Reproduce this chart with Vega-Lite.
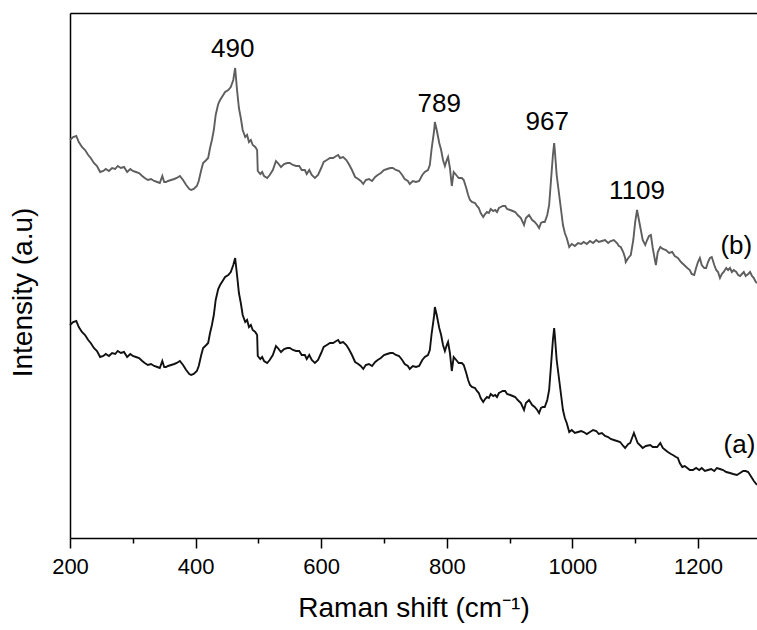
{
  "$schema": "https://vega.github.io/schema/vega-lite/v6.json",
  "width": 687,
  "height": 525,
  "autosize": "none",
  "padding": {"left": 70, "top": 13, "right": 0, "bottom": 92},
  "background": "white",
  "config": {"view": {"stroke": null}, "font": "Liberation Sans"},
  "datasets": {
    "b": [
      {"x":200,"y":398},{"x":205,"y":401},{"x":210,"y":402},{"x":214,"y":396},{"x":219,"y":391},{"x":224,"y":388},{"x":229,"y":383},{"x":233,"y":380},{"x":238,"y":375},{"x":243,"y":372},{"x":248,"y":366},{"x":253,"y":367},{"x":257,"y":369},{"x":262,"y":367},{"x":267,"y":370},{"x":272,"y":369},{"x":276,"y":372},{"x":281,"y":370},{"x":286,"y":371},{"x":291,"y":366},{"x":296,"y":369},{"x":300,"y":367},{"x":305,"y":366},{"x":310,"y":365},{"x":315,"y":362},{"x":319,"y":360},{"x":324,"y":358},{"x":329,"y":359},{"x":334,"y":357},{"x":339,"y":356},{"x":343,"y":355},{"x":347,"y":362},{"x":350,"y":356},{"x":353,"y":356},{"x":356,"y":357},{"x":361,"y":358},{"x":366,"y":359},{"x":370,"y":360},{"x":375,"y":362},{"x":380,"y":358},{"x":385,"y":353},{"x":390,"y":349},{"x":393,"y":348},{"x":397,"y":349},{"x":402,"y":352},{"x":405,"y":357},{"x":409,"y":368},{"x":412,"y":375},{"x":417,"y":378},{"x":420,"y":380},{"x":423,"y":390},{"x":426,"y":398},{"x":429,"y":408},{"x":432,"y":423},{"x":436,"y":434},{"x":439,"y":438},{"x":444,"y":443},{"x":447,"y":446},{"x":452,"y":448},{"x":456,"y":451},{"x":460,"y":458},{"x":463,"y":470},{"x":466,"y":448},{"x":469,"y":430},{"x":472,"y":420},{"x":475,"y":408},{"x":479,"y":401},{"x":482,"y":403},{"x":485,"y":396},{"x":488,"y":398},{"x":491,"y":393},{"x":495,"y":391},{"x":498,"y":388},{"x":499,"y":367},{"x":503,"y":364},{"x":506,"y":366},{"x":509,"y":362},{"x":514,"y":360},{"x":518,"y":363},{"x":523,"y":368},{"x":528,"y":377},{"x":531,"y":375},{"x":536,"y":371},{"x":541,"y":374},{"x":546,"y":375},{"x":550,"y":375},{"x":555,"y":373},{"x":560,"y":372},{"x":565,"y":372},{"x":569,"y":368},{"x":574,"y":368},{"x":577,"y":364},{"x":581,"y":368},{"x":585,"y":363},{"x":590,"y":360},{"x":595,"y":363},{"x":600,"y":370},{"x":604,"y":376},{"x":609,"y":378},{"x":614,"y":380},{"x":619,"y":380},{"x":624,"y":382},{"x":627,"y":383},{"x":630,"y":380},{"x":635,"y":381},{"x":640,"y":378},{"x":644,"y":374},{"x":649,"y":368},{"x":654,"y":361},{"x":659,"y":359},{"x":663,"y":357},{"x":667,"y":354},{"x":671,"y":358},{"x":676,"y":359},{"x":681,"y":357},{"x":686,"y":361},{"x":690,"y":363},{"x":695,"y":365},{"x":700,"y":368},{"x":705,"y":369},{"x":710,"y":370},{"x":714,"y":370},{"x":719,"y":368},{"x":724,"y":367},{"x":729,"y":363},{"x":733,"y":359},{"x":738,"y":357},{"x":741,"y":354},{"x":746,"y":357},{"x":751,"y":356},{"x":756,"y":357},{"x":761,"y":363},{"x":765,"y":366},{"x":770,"y":368},{"x":773,"y":373},{"x":776,"y":390},{"x":780,"y":408},{"x":781,"y":416},{"x":784,"y":408},{"x":788,"y":395},{"x":791,"y":388},{"x":794,"y":378},{"x":797,"y":372},{"x":800,"y":378},{"x":802,"y":381},{"x":805,"y":370},{"x":808,"y":352},{"x":811,"y":366},{"x":815,"y":363},{"x":819,"y":360},{"x":824,"y":360},{"x":827,"y":358},{"x":831,"y":350},{"x":834,"y":343},{"x":837,"y":338},{"x":840,"y":336},{"x":845,"y":335},{"x":848,"y":332},{"x":851,"y":330},{"x":854,"y":325},{"x":858,"y":321},{"x":861,"y":324},{"x":864,"y":326},{"x":867,"y":325},{"x":870,"y":329},{"x":874,"y":327},{"x":877,"y":328},{"x":880,"y":326},{"x":883,"y":330},{"x":886,"y":331},{"x":889,"y":332},{"x":893,"y":332},{"x":896,"y":329},{"x":901,"y":328},{"x":905,"y":327},{"x":909,"y":326},{"x":913,"y":323},{"x":918,"y":320},{"x":923,"y":313},{"x":926,"y":320},{"x":931,"y":323},{"x":936,"y":318},{"x":940,"y":316},{"x":944,"y":313},{"x":947,"y":310},{"x":950,"y":315},{"x":953,"y":316},{"x":956,"y":316},{"x":960,"y":323},{"x":963,"y":333},{"x":966,"y":358},{"x":969,"y":383},{"x":971,"y":395},{"x":972,"y":388},{"x":975,"y":363},{"x":979,"y":343},{"x":982,"y":328},{"x":985,"y":313},{"x":988,"y":305},{"x":991,"y":300},{"x":995,"y":291},{"x":999,"y":294},{"x":1004,"y":292},{"x":1009,"y":295},{"x":1014,"y":294},{"x":1018,"y":296},{"x":1023,"y":294},{"x":1028,"y":297},{"x":1033,"y":295},{"x":1038,"y":298},{"x":1042,"y":296},{"x":1047,"y":297},{"x":1052,"y":298},{"x":1057,"y":295},{"x":1061,"y":297},{"x":1066,"y":298},{"x":1071,"y":295},{"x":1074,"y":292},{"x":1077,"y":291},{"x":1081,"y":286},{"x":1084,"y":280},{"x":1085,"y":276},{"x":1089,"y":280},{"x":1093,"y":283},{"x":1097,"y":298},{"x":1100,"y":316},{"x":1103,"y":328},{"x":1106,"y":318},{"x":1109,"y":308},{"x":1112,"y":298},{"x":1116,"y":293},{"x":1119,"y":298},{"x":1122,"y":302},{"x":1125,"y":303},{"x":1128,"y":290},{"x":1132,"y":276},{"x":1133,"y":273},{"x":1136,"y":286},{"x":1140,"y":291},{"x":1144,"y":289},{"x":1149,"y":288},{"x":1154,"y":285},{"x":1159,"y":286},{"x":1163,"y":282},{"x":1168,"y":280},{"x":1173,"y":276},{"x":1178,"y":273},{"x":1183,"y":270},{"x":1187,"y":268},{"x":1190,"y":264},{"x":1194,"y":263},{"x":1197,"y":270},{"x":1200,"y":276},{"x":1203,"y":280},{"x":1206,"y":273},{"x":1210,"y":270},{"x":1213,"y":270},{"x":1216,"y":276},{"x":1219,"y":280},{"x":1222,"y":281},{"x":1226,"y":273},{"x":1229,"y":268},{"x":1232,"y":266},{"x":1235,"y":260},{"x":1238,"y":264},{"x":1241,"y":266},{"x":1245,"y":270},{"x":1248,"y":268},{"x":1251,"y":270},{"x":1254,"y":266},{"x":1257,"y":268},{"x":1261,"y":266},{"x":1264,"y":263},{"x":1267,"y":262},{"x":1270,"y":264},{"x":1273,"y":266},{"x":1276,"y":262},{"x":1280,"y":264},{"x":1283,"y":266},{"x":1286,"y":262},{"x":1289,"y":260},{"x":1292,"y":256},{"x":1294,"y":255}
    ],
    "a": [
      {"x":200,"y":213},{"x":205,"y":216},{"x":210,"y":217},{"x":214,"y":211},{"x":219,"y":206},{"x":224,"y":203},{"x":229,"y":198},{"x":233,"y":195},{"x":238,"y":190},{"x":243,"y":187},{"x":248,"y":181},{"x":253,"y":182},{"x":257,"y":184},{"x":262,"y":182},{"x":267,"y":185},{"x":272,"y":184},{"x":276,"y":187},{"x":281,"y":185},{"x":286,"y":186},{"x":291,"y":181},{"x":296,"y":184},{"x":300,"y":182},{"x":305,"y":181},{"x":310,"y":180},{"x":315,"y":177},{"x":319,"y":175},{"x":324,"y":173},{"x":329,"y":174},{"x":334,"y":172},{"x":339,"y":171},{"x":343,"y":170},{"x":347,"y":177},{"x":350,"y":171},{"x":353,"y":171},{"x":356,"y":172},{"x":361,"y":173},{"x":366,"y":174},{"x":370,"y":175},{"x":375,"y":177},{"x":380,"y":173},{"x":385,"y":168},{"x":390,"y":164},{"x":393,"y":163},{"x":397,"y":164},{"x":402,"y":167},{"x":405,"y":172},{"x":409,"y":183},{"x":412,"y":190},{"x":417,"y":193},{"x":420,"y":195},{"x":423,"y":205},{"x":426,"y":213},{"x":429,"y":223},{"x":432,"y":238},{"x":436,"y":249},{"x":439,"y":253},{"x":444,"y":258},{"x":447,"y":261},{"x":452,"y":263},{"x":456,"y":266},{"x":460,"y":273},{"x":463,"y":280},{"x":466,"y":263},{"x":469,"y":245},{"x":472,"y":235},{"x":475,"y":223},{"x":479,"y":216},{"x":482,"y":218},{"x":485,"y":211},{"x":488,"y":213},{"x":491,"y":208},{"x":495,"y":206},{"x":498,"y":203},{"x":499,"y":182},{"x":503,"y":179},{"x":506,"y":181},{"x":509,"y":177},{"x":514,"y":175},{"x":518,"y":178},{"x":523,"y":183},{"x":528,"y":192},{"x":531,"y":190},{"x":536,"y":186},{"x":541,"y":189},{"x":546,"y":190},{"x":550,"y":190},{"x":555,"y":188},{"x":560,"y":187},{"x":565,"y":187},{"x":569,"y":183},{"x":574,"y":183},{"x":577,"y":179},{"x":581,"y":183},{"x":585,"y":178},{"x":590,"y":175},{"x":595,"y":178},{"x":600,"y":185},{"x":604,"y":191},{"x":609,"y":193},{"x":614,"y":195},{"x":619,"y":195},{"x":624,"y":197},{"x":627,"y":198},{"x":630,"y":195},{"x":635,"y":196},{"x":640,"y":193},{"x":644,"y":189},{"x":649,"y":183},{"x":654,"y":176},{"x":659,"y":174},{"x":663,"y":172},{"x":667,"y":169},{"x":671,"y":173},{"x":676,"y":174},{"x":681,"y":172},{"x":686,"y":176},{"x":690,"y":178},{"x":695,"y":180},{"x":700,"y":183},{"x":705,"y":184},{"x":710,"y":185},{"x":714,"y":185},{"x":719,"y":183},{"x":724,"y":182},{"x":729,"y":178},{"x":733,"y":174},{"x":738,"y":172},{"x":741,"y":169},{"x":746,"y":172},{"x":751,"y":171},{"x":756,"y":172},{"x":761,"y":178},{"x":765,"y":181},{"x":770,"y":183},{"x":773,"y":188},{"x":776,"y":205},{"x":780,"y":223},{"x":781,"y":231},{"x":784,"y":223},{"x":788,"y":210},{"x":791,"y":203},{"x":794,"y":193},{"x":797,"y":187},{"x":800,"y":193},{"x":802,"y":196},{"x":805,"y":185},{"x":808,"y":167},{"x":811,"y":181},{"x":815,"y":178},{"x":819,"y":175},{"x":824,"y":175},{"x":827,"y":173},{"x":831,"y":165},{"x":834,"y":158},{"x":837,"y":153},{"x":840,"y":151},{"x":845,"y":150},{"x":848,"y":147},{"x":851,"y":145},{"x":854,"y":140},{"x":858,"y":136},{"x":861,"y":139},{"x":864,"y":141},{"x":867,"y":140},{"x":870,"y":144},{"x":874,"y":142},{"x":877,"y":143},{"x":880,"y":141},{"x":883,"y":145},{"x":886,"y":146},{"x":889,"y":147},{"x":893,"y":147},{"x":896,"y":144},{"x":901,"y":143},{"x":905,"y":142},{"x":909,"y":141},{"x":913,"y":138},{"x":918,"y":135},{"x":923,"y":128},{"x":926,"y":135},{"x":931,"y":138},{"x":936,"y":133},{"x":940,"y":131},{"x":944,"y":128},{"x":947,"y":125},{"x":950,"y":130},{"x":953,"y":131},{"x":956,"y":131},{"x":960,"y":138},{"x":963,"y":148},{"x":966,"y":173},{"x":969,"y":198},{"x":971,"y":210},{"x":972,"y":203},{"x":975,"y":178},{"x":979,"y":158},{"x":982,"y":143},{"x":985,"y":128},{"x":988,"y":120},{"x":991,"y":115},{"x":995,"y":106},{"x":999,"y":108},{"x":1004,"y":105},{"x":1009,"y":106},{"x":1014,"y":107},{"x":1018,"y":106},{"x":1023,"y":104},{"x":1028,"y":106},{"x":1033,"y":108},{"x":1038,"y":107},{"x":1042,"y":104},{"x":1047,"y":105},{"x":1052,"y":102},{"x":1057,"y":101},{"x":1061,"y":99},{"x":1066,"y":98},{"x":1071,"y":97},{"x":1076,"y":96},{"x":1081,"y":92},{"x":1084,"y":90},{"x":1089,"y":94},{"x":1092,"y":95},{"x":1095,"y":100},{"x":1098,"y":105},{"x":1101,"y":100},{"x":1104,"y":95},{"x":1109,"y":92},{"x":1112,"y":90},{"x":1117,"y":92},{"x":1124,"y":93},{"x":1128,"y":91},{"x":1135,"y":91},{"x":1140,"y":95},{"x":1144,"y":90},{"x":1148,"y":88},{"x":1152,"y":86},{"x":1157,"y":84},{"x":1160,"y":83},{"x":1165,"y":81},{"x":1168,"y":80},{"x":1171,"y":75},{"x":1175,"y":71},{"x":1179,"y":72},{"x":1183,"y":70},{"x":1187,"y":68},{"x":1192,"y":68},{"x":1197,"y":70},{"x":1202,"y":68},{"x":1206,"y":70},{"x":1211,"y":67},{"x":1216,"y":68},{"x":1221,"y":69},{"x":1226,"y":67},{"x":1230,"y":70},{"x":1235,"y":69},{"x":1240,"y":68},{"x":1245,"y":66},{"x":1251,"y":65},{"x":1256,"y":64},{"x":1262,"y":63},{"x":1267,"y":65},{"x":1272,"y":67},{"x":1276,"y":67},{"x":1280,"y":66},{"x":1283,"y":63},{"x":1286,"y":60},{"x":1289,"y":57},{"x":1294,"y":53}
    ],
    "labels": [
      {"x":459,"y":481,"t":"490"},
      {"x":788,"y":426,"t":"789"},
      {"x":960,"y":408,"t":"967"},
      {"x":1103,"y":339,"t":"1109"},
      {"x":1261,"y":284,"t":"(b)"},
      {"x":1266,"y":85,"t":"(a)"}
    ]
  },
  "layer": [
    {
      "data": {"name": "a"},
      "mark": {"type": "line", "color": "#111111", "strokeWidth": 1.9},
      "encoding": {
        "x": {"field": "x", "type": "quantitative",
              "scale": {"domain": [200, 1294], "nice": false, "zero": false},
              "axis": {"orient": "bottom", "values": [200, 400, 600, 800, 1000, 1200], "format": "d", "labelFlush": false, "grid": false,
                       "domainColor": "#000000", "domainWidth": 1.5, "tickColor": "#000000", "tickWidth": 1.5, "tickSize": 10,
                       "labelFontSize": 22, "labelColor": "#000000", "labelPadding": 8, "labelFont": "Liberation Sans",
                       "title": "Raman shift (cm⁻¹)", "titleFontSize": 28, "titleFontWeight": "normal", "titleColor": "#000000",
                       "titlePadding": 17, "titleFont": "Liberation Sans"}},
        "y": {"field": "y", "type": "quantitative",
              "scale": {"domain": [0, 525], "nice": false, "zero": false},
              "axis": {"orient": "left", "grid": false, "ticks": false, "labels": false,
                       "domainColor": "#000000", "domainWidth": 1.5,
                       "title": "Intensity (a.u)", "titleFontSize": 28, "titleFontWeight": "normal", "titleColor": "#000000",
                       "titleFont": "Liberation Sans", "titleX": -47, "titleY": 279, "titleAngle": -90,
                       "titleAlign": "center", "titleBaseline": "middle"}}
      }
    },
    {
      "data": {"name": "b"},
      "mark": {"type": "line", "color": "#5e5e5e", "strokeWidth": 1.9},
      "encoding": {
        "x": {"field": "x", "type": "quantitative",
              "scale": {"domain": [200, 1294], "nice": false, "zero": false},
              "axis": {"orient": "bottom", "values": [300, 500, 700, 900, 1100], "grid": false, "domain": false,
                       "labels": false, "title": null, "tickColor": "#000000", "tickWidth": 1.5, "tickSize": 5}},
        "y": {"field": "y", "type": "quantitative",
              "scale": {"domain": [0, 525], "nice": false, "zero": false}, "axis": null}
      }
    },
    {
      "data": {"name": "labels"},
      "mark": {"type": "text", "fontSize": 26, "color": "#000000", "align": "center", "baseline": "alphabetic", "font": "Liberation Sans"},
      "encoding": {
        "x": {"field": "x", "type": "quantitative",
              "scale": {"domain": [200, 1294], "nice": false, "zero": false},
              "axis": {"orient": "top", "grid": false, "ticks": false, "labels": false, "title": null,
                       "domainColor": "#000000", "domainWidth": 1.5}},
        "y": {"field": "y", "type": "quantitative",
              "scale": {"domain": [0, 525], "nice": false, "zero": false}, "axis": null},
        "text": {"field": "t", "type": "nominal"}
      }
    }
  ],
  "resolve": {"axis": {"x": "independent", "y": "independent"}}
}
